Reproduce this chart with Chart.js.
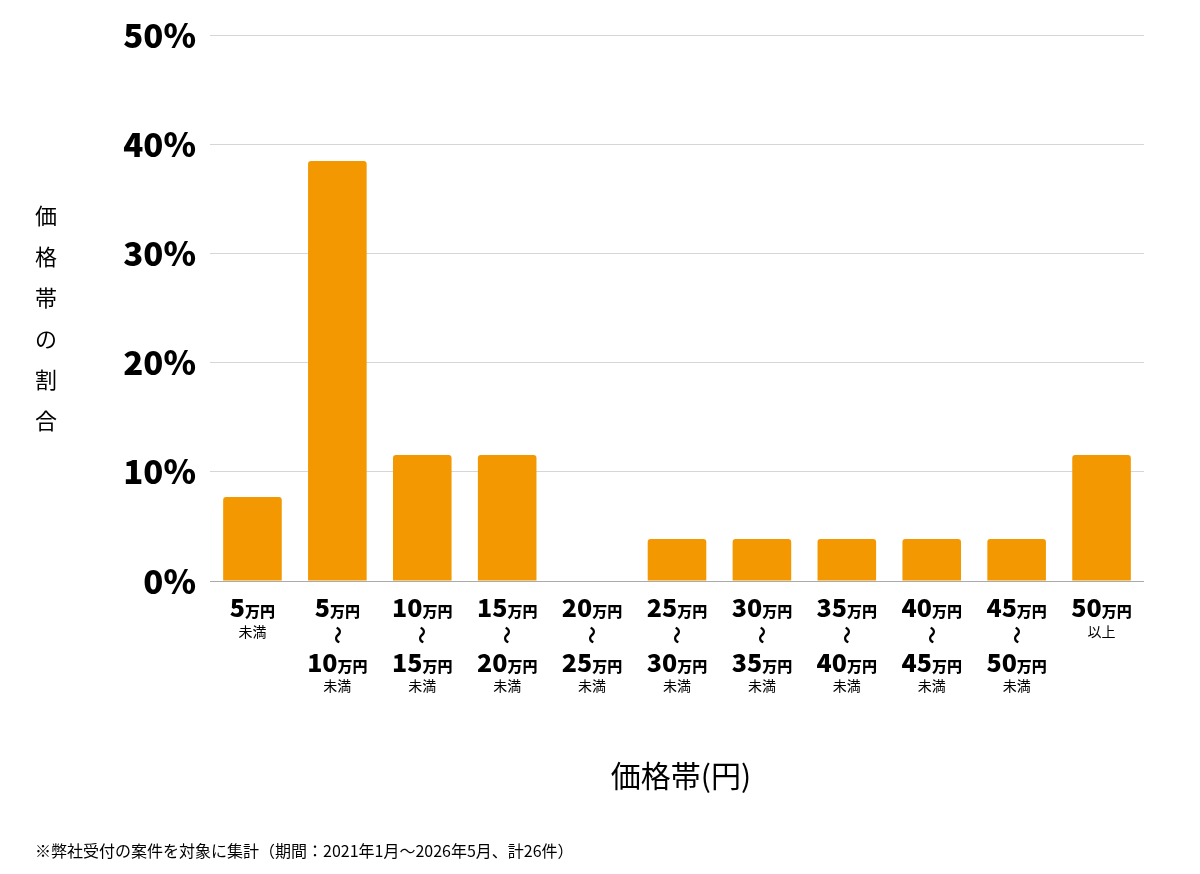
<!DOCTYPE html>
<html><head><meta charset="utf-8">
<script src="https://cdn.jsdelivr.net/npm/chart.js@4"></script>
<style>html,body{margin:0;padding:0;background:#fff}#w{width:1200px;height:874px}</style>
</head><body><div id="w"><canvas id="c"></canvas></div>
<script>
const lowerBounds = ['5','5','10','15','20','25','30','35','40','45','50'];
const upperBounds = [null,'10','15','20','25','30','35','40','45','50',null];
const counts = [2,10,3,3,0,1,1,1,1,1,3];
const total = 26;
const values = counts.map(c => c / total * 100);
const yTicks = [0,10,20,30,40,50];
const yTitle = ['価','格','帯','の','割','合'];
const xTitle = '価格帯(円)';
const note = '※弊社受付の案件を対象に集計（期間：2021年1月〜2026年5月、計26件）';
const JP = '"Noto Sans CJK JP","Noto Sans",sans-serif';

function numUnit(ctx, num, cx, y) {
  ctx.font = '900 25px ' + JP;
  const w1 = ctx.measureText(num).width;
  ctx.font = '900 15px ' + JP;
  const w2 = ctx.measureText('万円').width;
  const x0 = cx - (w1 + w2) / 2;
  ctx.textAlign = 'left'; ctx.textBaseline = 'alphabetic';
  ctx.font = '900 25px ' + JP; ctx.fillText(num, x0, y);
  ctx.font = '900 15px ' + JP; ctx.fillText('万円', x0 + w1, y);
}

const labelPlugin = {
  id: 'labels',
  afterDraw(chart) {
    const ctx = chart.ctx, xs = chart.scales.x;
    ctx.save(); ctx.fillStyle = '#000';
    lowerBounds.forEach((lo, i) => {
      const cx = xs.getPixelForValue(i);
      numUnit(ctx, lo, cx, 617);
      ctx.textAlign = 'center'; ctx.textBaseline = 'alphabetic';
      if (i === 0) { ctx.font = '14px ' + JP; ctx.fillText('未満', cx, 637); }
      else if (upperBounds[i] === null) { ctx.font = '14px ' + JP; ctx.fillText('以上', cx, 637); }
      else {
        ctx.save(); ctx.translate(cx, 635); ctx.rotate(Math.PI/2);
        ctx.font = 'bold 18px ' + JP; ctx.textBaseline = 'middle'; ctx.fillText('〜', 0, 0);
        ctx.restore();
        numUnit(ctx, upperBounds[i], cx, 672);
        ctx.textAlign = 'center'; ctx.font = '14px ' + JP; ctx.fillText('未満', cx, 691);
      }
    });
    ctx.font = '22px ' + JP; ctx.textAlign = 'center'; ctx.textBaseline = 'middle';
    yTitle.forEach((ch, i) => ctx.fillText(ch, 46, 216 + i * 41));
    ctx.font = '30px ' + JP; ctx.fillText(xTitle, 681, 776);
    ctx.font = '16px ' + JP; ctx.textAlign = 'left'; ctx.fillText(note, 35, 851);
    ctx.restore();
  }
};

new Chart(document.getElementById('c'), {
  type: 'bar',
  data: { labels: lowerBounds, datasets: [{ data: values, backgroundColor: '#F39800',
    barPercentage: 0.69, categoryPercentage: 1, borderRadius: {topLeft:3, topRight:3} }] },
  options: {
    responsive: true, maintainAspectRatio: false, animation: false,
    devicePixelRatio: 1,
    layout: { padding: { top: 35, bottom: 285, right: 56, left: 0 } },
    plugins: { legend: { display: false }, tooltip: { enabled: false } },
    scales: {
      x: { ticks: { display: false }, grid: { display: false }, border: { display: false } },
      y: { min: 0, max: 50, afterFit(s) { s.width = 210; },
        afterBuildTicks(s) { s.ticks = yTicks.map(v => ({ value: v })); },
        ticks: { padding: 14, color: '#000', font: { family: JP, weight: '900', size: 33 }, callback: v => v + '%' },
        grid: { drawTicks: false, color: c => c.tick.value === 0 ? '#aaa' : '#d6d6d6' },
        border: { display: false } }
    }
  },
  plugins: [labelPlugin]
});
</script></body></html>
